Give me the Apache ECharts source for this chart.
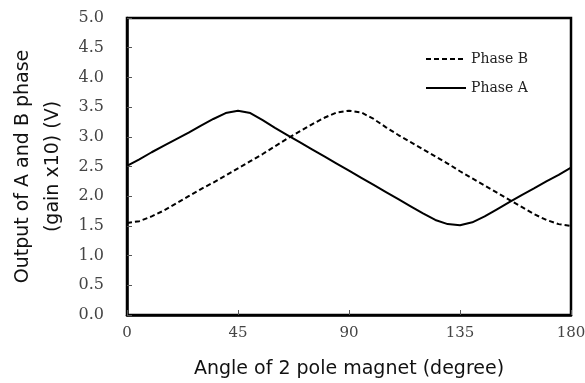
<!DOCTYPE html>
<html>
<head>
<meta charset="utf-8">
<script src="https://cdn.jsdelivr.net/npm/echarts@6/dist/echarts.min.js"></script>
<style>
  html, body { margin: 0; padding: 0; background: #fff; }
  #chart { width: 585px; height: 383px; }
</style>
</head>
<body>
<div id="chart"></div>
<script>
// angle in degrees, every 5
const angles = [0, 5, 10, 15, 20, 25, 30, 35, 40, 45, 50, 55, 60, 65, 70, 75, 80, 85, 90,
  95, 100, 105, 110, 115, 120, 125, 130, 135, 140, 145, 150, 155, 160, 165, 170, 175, 180];

const phaseA = [2.51, 2.62, 2.74, 2.85, 2.96, 3.07, 3.19, 3.30, 3.40, 3.44, 3.40, 3.28, 3.15,
  3.03, 2.91, 2.79, 2.67, 2.55, 2.43, 2.31, 2.19, 2.07, 1.95, 1.83, 1.71, 1.60, 1.53, 1.51,
  1.56, 1.66, 1.78, 1.90, 2.02, 2.13, 2.25, 2.36, 2.48];

const phaseB = [1.55, 1.58, 1.66, 1.76, 1.88, 2.00, 2.12, 2.23, 2.35, 2.47, 2.59, 2.71, 2.84,
  2.97, 3.09, 3.21, 3.32, 3.41, 3.44, 3.41, 3.30, 3.16, 3.03, 2.91, 2.79, 2.67, 2.55, 2.42,
  2.30, 2.18, 2.06, 1.94, 1.82, 1.70, 1.60, 1.53, 1.50];

const xTicks = [0, 45, 90, 135, 180];

const chart = echarts.init(document.getElementById('chart'));

const toPairs = (ys) => ys.map((y, i) => [angles[i], y]);
const serif = 'DejaVu Serif';
const sans = 'DejaVu Sans';

const option = {
  animation: false,
  backgroundColor: '#fff',
  grid: {
    left: 127, right: 14, top: 18, bottom: 68,
    outerBoundsMode: 'none',
    show: true,
    borderColor: '#000',
    borderWidth: 2.5
  },
  legend: {
    data: ['Phase B', 'Phase A'],
    orient: 'vertical',
    left: 420,
    top: 47,
    itemWidth: 40,
    itemHeight: 14,
    itemGap: 15,
    itemStyle: { opacity: 0 },
    textStyle: { fontFamily: serif, fontSize: 14, color: '#222' }
  },
  xAxis: {
    type: 'value',
    min: xTicks[0],
    max: xTicks[xTicks.length - 1],
    interval: 45,
    name: 'Angle of 2 pole magnet (degree)',
    nameLocation: 'middle',
    nameGap: 45,
    nameTextStyle: { fontFamily: sans, fontSize: 19, color: '#111' },
    axisLine: { lineStyle: { color: '#000', width: 2.5 } },
    axisTick: { inside: true, length: 5, lineStyle: { color: '#555' } },
    axisLabel: { fontFamily: serif, fontSize: 15, color: '#444', margin: 11 },
    splitLine: { show: false }
  },
  yAxis: {
    type: 'value',
    min: 0,
    max: 5,
    interval: 0.5,
    name: 'Output of A and B phase\n(gain x10) (V)',
    nameLocation: 'middle',
    nameGap: 59,
    nameRotate: 90,
    nameTextStyle: { fontFamily: sans, fontSize: 19, color: '#111', lineHeight: 30 },
    axisLine: { lineStyle: { color: '#000', width: 2.5 } },
    axisTick: { inside: true, length: 5, lineStyle: { color: '#555' } },
    axisLabel: {
      fontFamily: serif, fontSize: 16, color: '#444', margin: 23,
      formatter: (v) => v.toFixed(1)
    },
    splitLine: { show: false }
  },
  series: [
    {
      name: 'Phase B',
      type: 'line',
      symbol: 'none',
      data: toPairs(phaseB),
      lineStyle: { color: '#000', width: 2, type: [5, 3] },
      itemStyle: { color: '#000' }
    },
    {
      name: 'Phase A',
      type: 'line',
      symbol: 'none',
      data: toPairs(phaseA),
      lineStyle: { color: '#000', width: 2 },
      itemStyle: { color: '#000' }
    }
  ]
};

chart.setOption(option);
</script>
</body>
</html>
